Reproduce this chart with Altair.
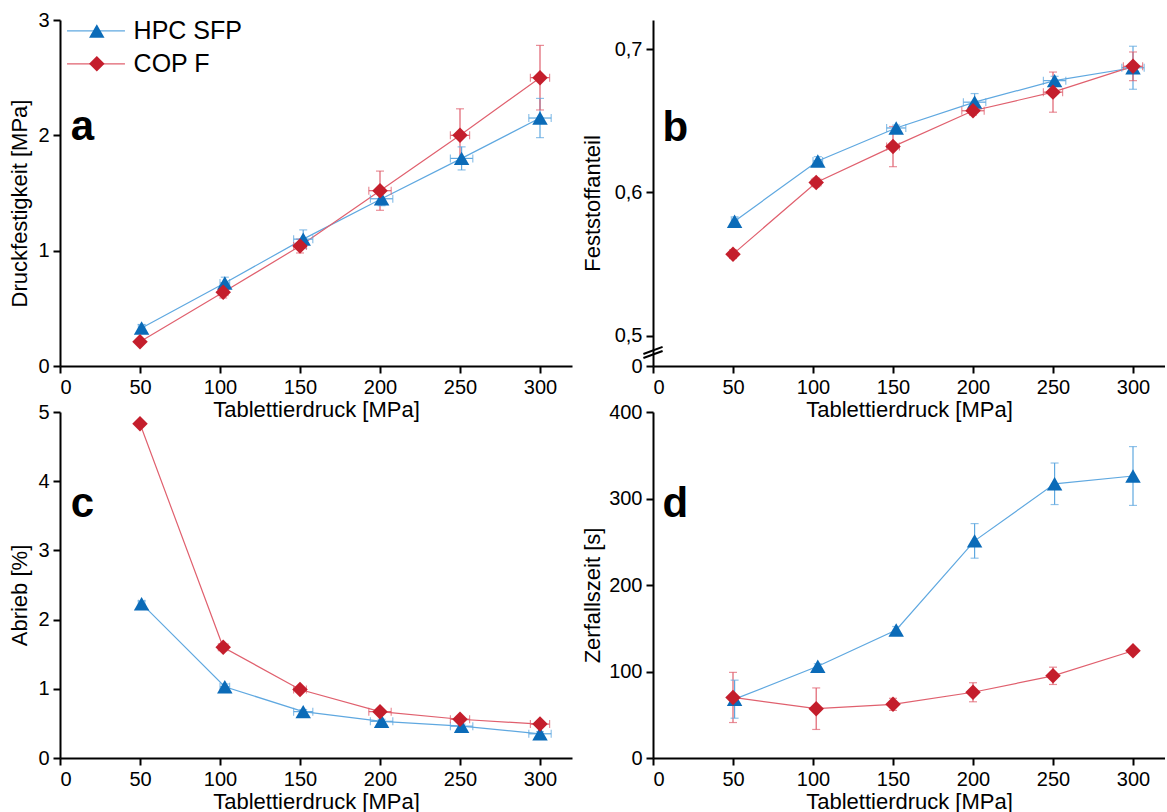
import altair as alt
import pandas as pd

series = ["HPC SFP", "COP F"]
line_colors = ["#5FA8E0", "#E0606E"]
marker_colors = ["#0B6BB8", "#C41E2C"]
shapes = ["triangle-up", "diamond"]

x_ticks = [0, 50, 100, 150, 200, 250, 300]

# measured tableting pressure (MPa) and its spread
x_hpc = [51, 103, 152, 201, 251, 300]
x_cop = [50, 102, 150, 200, 250, 300]
xerr_hpc = [2, 3, 6, 7, 7, 7]
xerr_cop = [1, 3, 4, 7, 6, 6]

# a: Druckfestigkeit [MPa]
a_hpc = [0.33, 0.72, 1.10, 1.45, 1.80, 2.15]
a_hpc_err = [0.03, 0.05, 0.08, 0.06, 0.10, 0.17]
a_cop = [0.21, 0.64, 1.04, 1.52, 2.00, 2.50]
a_cop_err = [0.02, 0.05, 0.06, 0.17, 0.23, 0.28]

# b: Feststoffanteil
b_hpc = [0.580, 0.622, 0.645, 0.663, 0.678, 0.687]
b_hpc_err = [0.003, 0.003, 0.002, 0.006, 0.003, 0.015]
b_cop = [0.557, 0.607, 0.632, 0.657, 0.670, 0.688]
b_cop_err = [0.003, 0.003, 0.014, 0.003, 0.014, 0.010]

# c: Abrieb [%]
c_hpc = [2.23, 1.03, 0.67, 0.53, 0.46, 0.35]
c_hpc_err = [0.04, 0.04, 0.03, 0.03, 0.03, 0.03]
c_cop = [4.83, 1.60, 0.99, 0.67, 0.56, 0.49]
c_cop_err = [0.03, 0.05, 0.04, 0.03, 0.03, 0.03]

# d: Zerfallszeit [s]
d_hpc = [68, 106, 148, 251, 317, 326]
d_hpc_err = [22, 3, 4, 20, 24, 34]
d_cop = [70, 57, 62, 76, 95, 124]
d_cop_err = [29, 24, 7, 11, 10, 2]

W, H = 512, 346
FONT = "Liberation Sans"


def make_df(hpc, hpc_err, cop, cop_err, with_xerr=True):
    rows = []
    for name, xs, xe, ys, ye in [
        ("HPC SFP", x_hpc, xerr_hpc, hpc, hpc_err),
        ("COP F", x_cop, xerr_cop, cop, cop_err),
    ]:
        for xv, xev, yv, yev in zip(xs, xe, ys, ye):
            e = xev if with_xerr else 0
            rows.append(dict(series=name, x=xv, y=yv, ylo=yv - yev, yhi=yv + yev,
                             xlo=xv - e, xhi=xv + e))
    return pd.DataFrame(rows)


def panel(df, ydom, yticks, ytitle, title_x, label_expr, letter, letter_y,
          with_xerr=True, extra=None):
    xs = alt.Scale(domain=[0, 320], nice=False, zero=False)
    ys = alt.Scale(domain=ydom, nice=False, zero=False)
    lc = alt.Color("series:N", scale=alt.Scale(domain=series, range=line_colors), legend=None)
    mf = alt.Fill("series:N", scale=alt.Scale(domain=series, range=marker_colors), legend=None)
    sh = alt.Shape("series:N", scale=alt.Scale(domain=series, range=shapes), legend=None)

    base = alt.Chart(df)
    line = base.mark_line(strokeWidth=1.2).encode(
        x=alt.X("x:Q", scale=xs, axis=alt.Axis(values=x_ticks, title="Tablettierdruck [MPa]",
                                               titleY=43, titleBaseline="middle")),
        y=alt.Y("y:Q", scale=ys, axis=alt.Axis(values=yticks, title=ytitle, labelExpr=label_expr,
                                               titleX=title_x, titleY=H / 2 + 10,
                                               titleBaseline="middle")),
        color=lc, detail="series:N", order="x:Q",
    )
    vbar = base.mark_rule(strokeWidth=1.2).encode(
        x=alt.X("x:Q", scale=xs), y=alt.Y("ylo:Q", scale=ys), y2="yhi:Q", color=lc)
    vcap1 = base.mark_tick(orient="horizontal", size=8, thickness=1.2).encode(
        x=alt.X("x:Q", scale=xs), y=alt.Y("ylo:Q", scale=ys), color=lc)
    vcap2 = base.mark_tick(orient="horizontal", size=8, thickness=1.2).encode(
        x=alt.X("x:Q", scale=xs), y=alt.Y("yhi:Q", scale=ys), color=lc)
    layers = [line, vbar, vcap1, vcap2]
    if with_xerr:
        hbar = base.mark_rule(strokeWidth=1.2).encode(
            x=alt.X("xlo:Q", scale=xs), x2="xhi:Q", y=alt.Y("y:Q", scale=ys), color=lc)
        hcap1 = base.mark_tick(orient="vertical", size=8, thickness=1.2).encode(
            x=alt.X("xlo:Q", scale=xs), y=alt.Y("y:Q", scale=ys), color=lc)
        hcap2 = base.mark_tick(orient="vertical", size=8, thickness=1.2).encode(
            x=alt.X("xhi:Q", scale=xs), y=alt.Y("y:Q", scale=ys), color=lc)
        layers += [hbar, hcap1, hcap2]
    pts = base.mark_point(filled=True, size=240, opacity=1, strokeWidth=0).encode(
        x=alt.X("x:Q", scale=xs), y=alt.Y("y:Q", scale=ys), fill=mf, shape=sh)
    layers.append(pts)
    ldf = pd.DataFrame({"x": [14], "y": [letter_y], "t": [letter]})
    txt = alt.Chart(ldf).mark_text(fontSize=42, fontWeight="bold", font=FONT, color="black",
                                   align="center", baseline="middle").encode(
        x=alt.X("x:Q", scale=xs), y=alt.Y("y:Q", scale=ys), text="t:N")
    layers.append(txt)
    if extra:
        layers += extra(xs, ys, lc, mf, sh)
    return alt.layer(*layers).properties(width=W, height=H)


def legend_layers(xs, ys, lc, mf, sh):
    lg = pd.DataFrame({"series": series, "x1": [4.4, 4.4], "x2": [40.6, 40.6],
                       "mx": [23, 23], "tx": [46, 46], "y": [2.905, 2.62]})
    b = alt.Chart(lg)
    r = b.mark_rule(strokeWidth=1.2).encode(
        x=alt.X("x1:Q", scale=xs), x2="x2:Q", y=alt.Y("y:Q", scale=ys), color=lc)
    p = b.mark_point(filled=True, size=240, opacity=1, strokeWidth=0).encode(
        x=alt.X("mx:Q", scale=xs), y=alt.Y("y:Q", scale=ys), fill=mf, shape=sh)
    t = b.mark_text(fontSize=25, font=FONT, color="black", align="left", baseline="middle").encode(
        x=alt.X("tx:Q", scale=xs), y=alt.Y("y:Q", scale=ys), text="series:N")
    return [r, p, t]


def break_layers(xs, ys, lc, mf, sh):
    bk = pd.DataFrame({"x1": [-6, -6], "x2": [6, 6], "y1": [0.4874, 0.4846], "y2": [0.4923, 0.4895]})
    r = alt.Chart(bk).mark_rule(strokeWidth=2, color="black").encode(
        x=alt.X("x1:Q", scale=xs), x2="x2:Q", y=alt.Y("y1:Q", scale=ys), y2="y2:Q")
    return [r]


int_expr = "format(datum.value, 'd')"
comma_expr = "datum.value < 0.49 ? '0' : replace(format(datum.value, '.1f'), '.', ',')"

pa = panel(make_df(a_hpc, a_hpc_err, a_cop, a_cop_err), [0, 3], [0, 1, 2, 3],
           "Druckfestigkeit [MPa]", -41, int_expr, "a", 2.07, extra=legend_layers)
pb = panel(make_df(b_hpc, b_hpc_err, b_cop, b_cop_err), [0.479, 0.7203], [0.479, 0.5, 0.6, 0.7],
           "Feststoffanteil", -61, comma_expr, "b", 0.645, extra=break_layers)
pc = panel(make_df(c_hpc, c_hpc_err, c_cop, c_cop_err), [0, 5], [0, 1, 2, 3, 4, 5],
           "Abrieb [%]", -41, int_expr, "c", 3.67)
pd_ = panel(make_df(d_hpc, d_hpc_err, d_cop, d_cop_err, with_xerr=False), [0, 400],
            [0, 100, 200, 300, 400], "Zerfallszeit [s]", -61, int_expr, "d", 294, with_xerr=False)

chart = alt.concat(pa, pb, pc, pd_, columns=2, spacing={"row": 46, "column": 81}).properties(
    bounds="flush",
    padding={"left": 8, "top": 10, "right": 0, "bottom": 0},
    background="white",
).resolve_scale(x="independent", y="independent").configure_view(stroke=None).configure_axis(
    domainColor="black", domainWidth=2, tickColor="black", tickWidth=2, tickSize=7,
    labelFont=FONT, labelFontSize=20, labelColor="black", labelPadding=4,
    titleFont=FONT, titleFontSize=22, titleFontWeight="normal", titleColor="black",
    grid=False,
)

chart.save("out.html", embed_options={"renderer": "svg", "actions": False})
